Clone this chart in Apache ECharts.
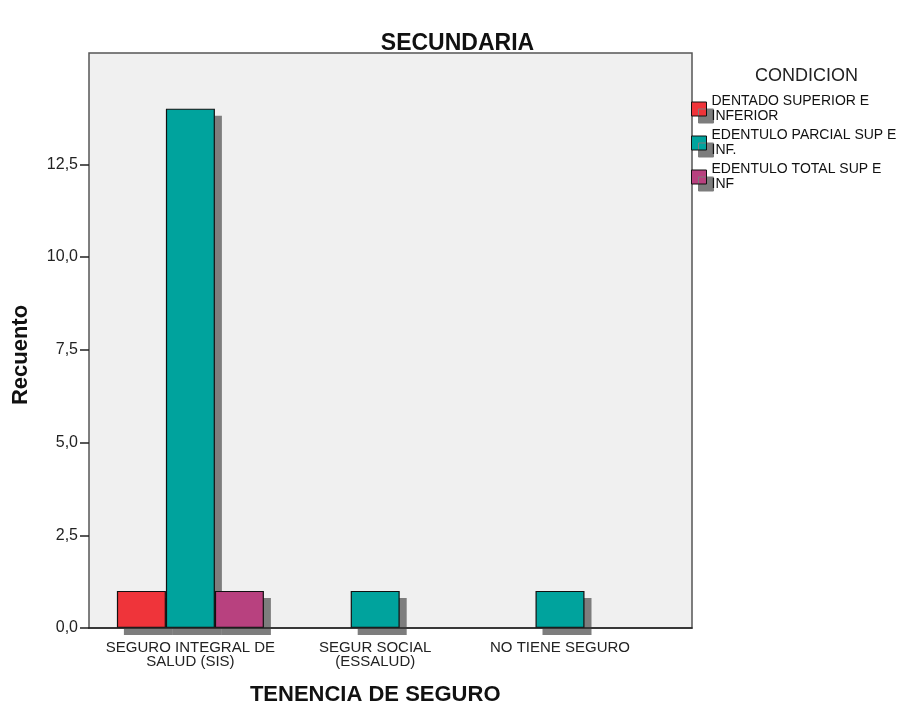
<!DOCTYPE html>
<html>
<head>
<meta charset="utf-8">
<script src="https://cdn.jsdelivr.net/npm/echarts@6/dist/echarts.min.js"></script>
<style>
  html, body { margin: 0; padding: 0; background: #fff; }
  #chart { width: 915px; height: 709px; }
</style>
</head>
<body>
<div id="chart"></div>
<script>
(function(){
	// datos
	var categories = ['SEGURO INTEGRAL DE\nSALUD (SIS)', 'SEGUR SOCIAL\n(ESSALUD)', 'NO TIENE SEGURO'];
	var seriesNames = ['DENTADO SUPERIOR E INFERIOR', 'EDENTULO PARCIAL SUP E INF.', 'EDENTULO TOTAL SUP E INF'];
	var legendLabels = ['DENTADO SUPERIOR E\nINFERIOR', 'EDENTULO PARCIAL SUP E\nINF.', 'EDENTULO TOTAL SUP E\nINF'];
	var dentado = [1, null, null];
	var parcial = [14, 1, 1];
	var total = [1, null, null];
	var yTicks = [0, 2.5, 5, 7.5, 10, 12.5];

	var colors = ['#ef343a', '#00a39d', '#b8417f'];
	var shadowColor = '#7d7d7d';
	var font = '"Liberation Sans", Arial, sans-serif';

	var plotTop = 53, plotBottom = 628, yMax = 15.5;
	var shOff = 7; // desplazamiento de la sombra

	function barSeries(name, data, color, idx){
		return {
			name: name,
			type: 'bar',
			xAxisIndex: idx,
			yAxisIndex: idx,
			data: data,
			barWidth: 49,
			barGap: '0%',
			clip: false,
			z: idx === 2 ? 1 : 2,
			itemStyle: idx === 2 ? { color: shadowColor, borderWidth: 0 } : {
				color: color,
				borderColor: '#111',
				borderWidth: 1.2
			},
			emphasis: { disabled: true },
			tooltip: { show: false }
		};
	}

	function hiddenCat(gridIndex){
		return { gridIndex: gridIndex, type: 'category', data: categories, show: false };
	}

	var option = {
		backgroundColor: '#ffffff',
		animation: false,
		title: [{
			text: 'SECUNDARIA',
			left: 'center',
			top: 27,
			textStyle: { fontFamily: font, fontSize: 23, fontWeight: 'bold', color: '#111' }
		}, {
			text: 'CONDICION',
			left: 750,
			top: 62,
			textStyle: { fontFamily: font, fontSize: 18, fontWeight: 'normal', color: '#222' }
		}],
		legend: {
			orient: 'vertical',
			left: 691,
			top: 94,
			padding: 0,
			icon: 'rect',
			itemWidth: 15,
			itemHeight: 14,
			itemGap: 4,
			itemTextGap: 4,
			data: seriesNames,
			formatter: function(name){
				return legendLabels[seriesNames.indexOf(name)];
			},
			itemStyle: {
				borderColor: '#111',
				borderWidth: 1,
				shadowColor: shadowColor,
				shadowBlur: 0,
				shadowOffsetX: 7,
				shadowOffsetY: 7
			},
			textStyle: { fontFamily: font, fontSize: 14, lineHeight: 15, color: '#111' }
		},
		grid: [{
			// marco del area de trazado
			left: 89, top: plotTop, width: 603, height: plotBottom - plotTop,
			outerBoundsMode: 'none',
			show: true,
			backgroundColor: '#f0f0f0',
			borderColor: '#555',
			borderWidth: 1.5
		}, {
			left: 98, top: plotTop, width: 554.4, height: plotBottom - plotTop,
			outerBoundsMode: 'none'
		}, {
			// rejilla desplazada para las sombras de las barras
			left: 98 + shOff, top: plotTop + shOff, width: 554.4, height: plotBottom - plotTop,
			outerBoundsMode: 'none'
		}],
		xAxis: [{
			gridIndex: 0,
			type: 'value', min: 0, max: 1,
			z: 5,
			axisLine: { show: true, lineStyle: { color: '#222', width: 1.5 } },
			axisTick: { show: false },
			axisLabel: { show: false },
			splitLine: { show: false }
		}, {
			gridIndex: 1,
			type: 'category',
			data: categories,
			name: 'TENENCIA DE SEGURO',
			nameLocation: 'middle',
			nameGap: 56,
			nameTextStyle: { fontFamily: font, fontSize: 22, fontWeight: 'bold', color: '#111' },
			axisLine: { show: false },
			axisTick: { show: true, alignWithLabel: true, length: 5, lineStyle: { color: '#222' } },
			axisLabel: { interval: 0, hideOverlap: false, fontFamily: font, fontSize: 15, lineHeight: 14, color: '#222', margin: 13 },
			splitLine: { show: false }
		}, hiddenCat(2)],
		yAxis: [{
			gridIndex: 0,
			type: 'value', min: 0, max: 1,
			show: false
		}, {
			gridIndex: 1,
			type: 'value',
			min: 0,
			max: yMax,
			offset: 9,
			axisLine: { show: false },
			axisTick: { show: true, length: 9, customValues: yTicks, lineStyle: { color: '#222', width: 1.5 } },
			axisLabel: {
				fontFamily: font, fontSize: 16, color: '#222', margin: 11,
				customValues: yTicks,
				formatter: function(v){ return v.toFixed(1).replace('.', ','); }
			},
			splitLine: { show: false }
		}, {
			gridIndex: 2,
			type: 'value', min: 0, max: yMax,
			show: false
		}],
		graphic: [{
			type: 'text',
			x: 10,
			y: 355,
			rotation: Math.PI / 2,
			style: {
				text: 'Recuento',
				font: 'bold 22px ' + font,
				fill: '#111',
				align: 'center',
				verticalAlign: 'top'
			}
		}],
		series: [
			barSeries('s0', dentado, shadowColor, 2),
			barSeries('s1', parcial, shadowColor, 2),
			barSeries('s2', total, shadowColor, 2),
			barSeries(seriesNames[0], dentado, colors[0], 1),
			barSeries(seriesNames[1], parcial, colors[1], 1),
			barSeries(seriesNames[2], total, colors[2], 1)
		]
	};

	var myChart = echarts.init(document.getElementById('chart'));
	myChart.setOption(option);
})();
</script>
</body>
</html>
